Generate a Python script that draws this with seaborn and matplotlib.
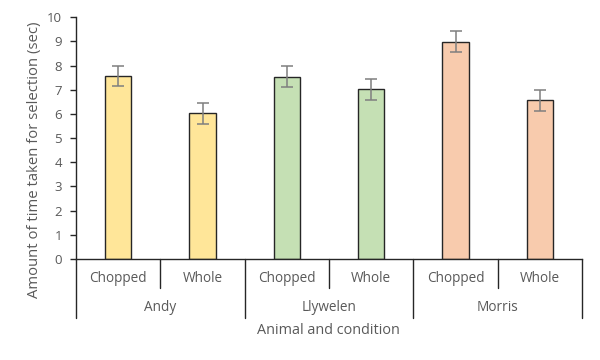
import matplotlib
matplotlib.use("Agg")
import matplotlib.pyplot as plt
import matplotlib.transforms as mtransforms
import seaborn as sns
import pandas as pd

animals = ["Andy", "Llywelen", "Morris"]
conditions = ["Chopped", "Whole"]
means = [7.57, 6.02, 7.55, 7.02, 8.99, 6.56]
errors = [0.42, 0.42, 0.42, 0.43, 0.43, 0.43]
bar_colors = ["#FFE699", "#FFE699", "#C5E0B4", "#C5E0B4", "#F8CBAD", "#F8CBAD"]

sns.set_theme(style="white")
plt.rcParams["font.family"] = ["Open Sans", "DejaVu Sans"]

TXT = "#595959"
LINE = "#262626"

df = pd.DataFrame({
    "key": [f"{a}|{c}" for a in animals for c in conditions],
    "animal": [a for a in animals for c in conditions],
    "condition": [c for a in animals for c in conditions],
    "mean": means,
})

fig = plt.figure(figsize=(6, 3.6), dpi=100)
ax = fig.add_axes([76 / 600, 1 - 259 / 360, 506 / 600, 241.7 / 360])

sns.barplot(data=df, x="key", y="mean", hue="key", palette=bar_colors,
            saturation=1, width=0.31, edgecolor=LINE, linewidth=1.0,
            legend=False, errorbar=None, ax=ax)
ax.errorbar(x=list(range(len(means))), y=means, yerr=errors, fmt="none",
            ecolor="#7F7F7F", elinewidth=1.1, capsize=4.5, capthick=1.1)

ax.set_ylim(0, 10)
ax.set_xlim(-0.5, len(means) - 0.5)
ax.set_yticks(range(0, 11))
ax.tick_params(axis="y", which="both", left=True, length=4, width=1,
               color=LINE, labelsize=9.5, labelcolor=TXT, pad=6)
ax.set_xticks([])
ax.set_xlabel("")
ax.set_ylabel("")

for side in ["top", "right"]:
    ax.spines[side].set_visible(False)
for side in ["left", "bottom"]:
    ax.spines[side].set_color(LINE)
    ax.spines[side].set_linewidth(1)

trans = mtransforms.blended_transform_factory(ax.transData, ax.transAxes)
short_len = 29 / 241.7
long_len = 59 / 241.7
n = len(means)
for i in range(n + 1):
    xpos = i - 0.5
    length = long_len if i % 2 == 0 else short_len
    ax.plot([xpos, xpos], [0, -length], transform=trans, color=LINE,
            lw=1, clip_on=False)

for i, c in enumerate(df["condition"]):
    ax.text(i, -19.5 / 241.7, c, transform=trans, ha="center", va="center",
            fontsize=9.8, color=TXT)
for j, a in enumerate(animals):
    ax.text(2 * j + 0.5, -48.5 / 241.7, a, transform=trans, ha="center",
            va="center", fontsize=9.8, color=TXT)

# axis titles placed like the original (y title sits a bit below centre)
fig.text(35 / 600, 1 - 160 / 360, "Amount of time taken for selection (sec)",
         rotation=90, ha="center", va="center", fontsize=10.7, color=TXT)
fig.text(328 / 600, 1 - 331 / 360, "Animal and condition", ha="center",
         va="center", fontsize=10.4, color=TXT)

fig.savefig("out.png", dpi=100)
